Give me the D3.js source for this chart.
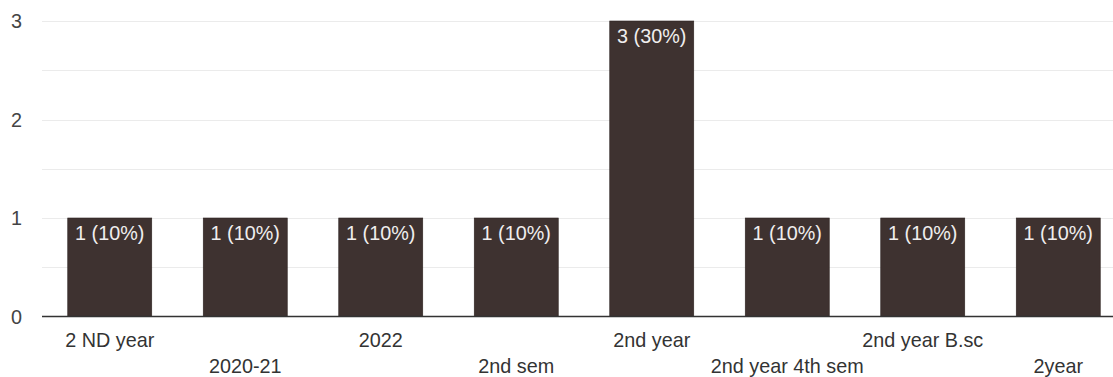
<!DOCTYPE html>
<html><head><meta charset="utf-8">
<script src="https://cdn.jsdelivr.net/npm/d3@7"></script>
<style>html,body{margin:0;padding:0;background:#fff;overflow:hidden}</style>
</head><body>
<svg id="c" width="1113" height="377"></svg>
<script>
const categories = ["2 ND year","2020-21","2022","2nd sem","2nd year","2nd year 4th sem","2nd year B.sc","2year"];
const counts = [1,1,1,1,3,1,1,1];
const labels = ["1 (10%)","1 (10%)","1 (10%)","1 (10%)","3 (30%)","1 (10%)","1 (10%)","1 (10%)"];
const yTicks = [0,1,2,3];
const gridValues = [0.5,1,1.5,2,2.5,3];

const svg = d3.select("#c");
const font = "Arial, 'Liberation Sans', sans-serif";
const x = d3.scaleBand().domain(categories).range([42,1126]).paddingInner(0.38).paddingOuter(0.19);
const y = d3.scaleLinear().domain([0,3]).range([316.5,21]);

svg.append("g").selectAll("line").data(gridValues).join("line")
  .attr("x1",42).attr("x2",1113)
  .attr("y1",d=>Math.round(y(d))+0.5).attr("y2",d=>Math.round(y(d))+0.5)
  .attr("stroke","#ebebeb").attr("stroke-width",1);

svg.append("g").selectAll("rect").data(categories).join("rect")
  .attr("x",d=>x(d)).attr("width",x.bandwidth())
  .attr("y",(d,i)=>y(counts[i])).attr("height",(d,i)=>y(0)-y(counts[i]))
  .attr("fill","#3e3230").attr("stroke","#2e2422").attr("stroke-width",0.6);

svg.append("line").attr("x1",42).attr("x2",1113).attr("y1",316.5).attr("y2",316.5)
  .attr("stroke","#333").attr("stroke-width",1.3);

svg.append("g").selectAll("text").data(categories).join("text")
  .attr("x",d=>x(d)+x.bandwidth()/2).attr("y",(d,i)=>y(counts[i])+22)
  .attr("text-anchor","middle").attr("font-family",font).attr("font-size",19.8)
  .attr("fill","#f0eeee").text((d,i)=>labels[i]);

svg.append("g").selectAll("text").data(yTicks).join("text")
  .attr("x",22).attr("y",d=>y(d)+7)
  .attr("text-anchor","end").attr("font-family",font).attr("font-size",19.8)
  .attr("fill","#444").text(d=>d);

svg.append("g").selectAll("text").data(categories).join("text")
  .attr("x",d=>x(d)+x.bandwidth()/2).attr("y",(d,i)=>i%2===0?347:373)
  .attr("text-anchor","middle").attr("font-family",font).attr("font-size",19.8)
  .attr("fill","#333").text(d=>d);
</script>
</body></html>
